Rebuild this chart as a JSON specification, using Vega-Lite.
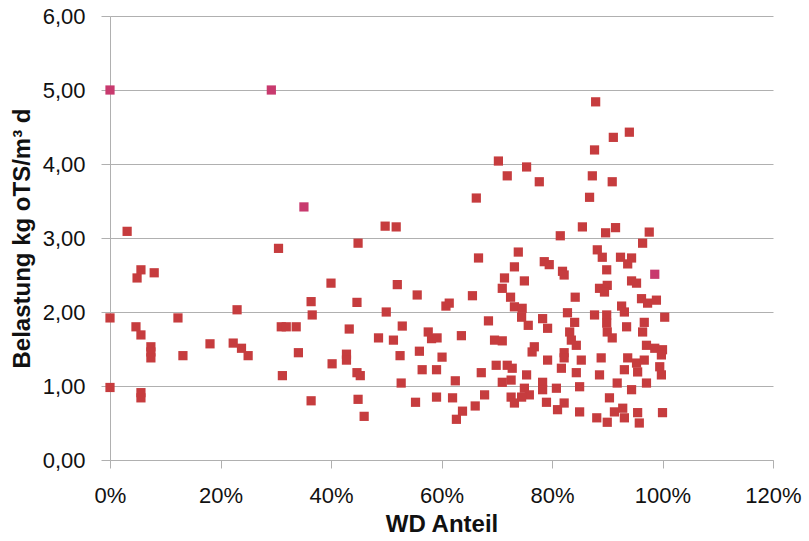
{
  "$schema": "https://vega.github.io/schema/vega-lite/v6.json",
  "width": 663,
  "height": 444,
  "autosize": {"type": "none"},
  "padding": {"left": 110, "top": 16, "right": 36, "bottom": 81},
  "background": "white",
  "config": {
    "view": {"stroke": null},
    "font": "Liberation Sans"
  },
  "data": {
    "values": [
      {"x": 0.000, "y": 5.00, "s": "b"},
      {"x": 0.000, "y": 1.92, "s": "a"},
      {"x": 0.000, "y": 0.98, "s": "a"},
      {"x": 0.031, "y": 3.09, "s": "a"},
      {"x": 0.049, "y": 2.46, "s": "a"},
      {"x": 0.056, "y": 2.57, "s": "a"},
      {"x": 0.080, "y": 2.53, "s": "a"},
      {"x": 0.047, "y": 1.80, "s": "a"},
      {"x": 0.056, "y": 1.69, "s": "a"},
      {"x": 0.056, "y": 0.91, "s": "a"},
      {"x": 0.056, "y": 0.84, "s": "a"},
      {"x": 0.074, "y": 1.53, "s": "a"},
      {"x": 0.074, "y": 1.46, "s": "a"},
      {"x": 0.074, "y": 1.38, "s": "a"},
      {"x": 0.123, "y": 1.92, "s": "a"},
      {"x": 0.132, "y": 1.41, "s": "a"},
      {"x": 0.181, "y": 1.57, "s": "a"},
      {"x": 0.223, "y": 1.58, "s": "a"},
      {"x": 0.230, "y": 2.03, "s": "a"},
      {"x": 0.238, "y": 1.51, "s": "a"},
      {"x": 0.250, "y": 1.41, "s": "a"},
      {"x": 0.292, "y": 5.00, "s": "b"},
      {"x": 0.305, "y": 2.86, "s": "a"},
      {"x": 0.310, "y": 1.80, "s": "a"},
      {"x": 0.319, "y": 1.80, "s": "a"},
      {"x": 0.312, "y": 1.14, "s": "a"},
      {"x": 0.337, "y": 1.80, "s": "a"},
      {"x": 0.341, "y": 1.45, "s": "a"},
      {"x": 0.351, "y": 3.42, "s": "b"},
      {"x": 0.498, "y": 3.16, "s": "a"},
      {"x": 0.518, "y": 3.15, "s": "a"},
      {"x": 0.449, "y": 2.93, "s": "a"},
      {"x": 0.663, "y": 3.54, "s": "a"},
      {"x": 0.667, "y": 2.73, "s": "a"},
      {"x": 0.400, "y": 2.39, "s": "a"},
      {"x": 0.520, "y": 2.37, "s": "a"},
      {"x": 0.556, "y": 2.23, "s": "a"},
      {"x": 0.364, "y": 2.14, "s": "a"},
      {"x": 0.447, "y": 2.13, "s": "a"},
      {"x": 0.608, "y": 2.08, "s": "a"},
      {"x": 0.614, "y": 2.12, "s": "a"},
      {"x": 0.656, "y": 2.22, "s": "a"},
      {"x": 0.366, "y": 1.96, "s": "a"},
      {"x": 0.500, "y": 2.00, "s": "a"},
      {"x": 0.433, "y": 1.77, "s": "a"},
      {"x": 0.529, "y": 1.81, "s": "a"},
      {"x": 0.486, "y": 1.65, "s": "a"},
      {"x": 0.513, "y": 1.62, "s": "a"},
      {"x": 0.576, "y": 1.73, "s": "a"},
      {"x": 0.582, "y": 1.64, "s": "a"},
      {"x": 0.592, "y": 1.65, "s": "a"},
      {"x": 0.636, "y": 1.68, "s": "a"},
      {"x": 0.428, "y": 1.43, "s": "a"},
      {"x": 0.428, "y": 1.35, "s": "a"},
      {"x": 0.402, "y": 1.30, "s": "a"},
      {"x": 0.525, "y": 1.41, "s": "a"},
      {"x": 0.560, "y": 1.47, "s": "a"},
      {"x": 0.601, "y": 1.39, "s": "a"},
      {"x": 0.447, "y": 1.18, "s": "a"},
      {"x": 0.453, "y": 1.14, "s": "a"},
      {"x": 0.565, "y": 1.22, "s": "a"},
      {"x": 0.591, "y": 1.22, "s": "a"},
      {"x": 0.527, "y": 1.04, "s": "a"},
      {"x": 0.625, "y": 1.07, "s": "a"},
      {"x": 0.364, "y": 0.80, "s": "a"},
      {"x": 0.449, "y": 0.82, "s": "a"},
      {"x": 0.460, "y": 0.59, "s": "a"},
      {"x": 0.553, "y": 0.78, "s": "a"},
      {"x": 0.591, "y": 0.85, "s": "a"},
      {"x": 0.620, "y": 0.84, "s": "a"},
      {"x": 0.638, "y": 0.66, "s": "a"},
      {"x": 0.627, "y": 0.55, "s": "a"},
      {"x": 0.661, "y": 0.73, "s": "a"},
      {"x": 0.678, "y": 0.88, "s": "a"},
      {"x": 0.879, "y": 4.84, "s": "a"},
      {"x": 0.911, "y": 4.36, "s": "a"},
      {"x": 0.940, "y": 4.43, "s": "a"},
      {"x": 0.877, "y": 4.19, "s": "a"},
      {"x": 0.703, "y": 4.04, "s": "a"},
      {"x": 0.719, "y": 3.84, "s": "a"},
      {"x": 0.754, "y": 3.96, "s": "a"},
      {"x": 0.777, "y": 3.76, "s": "a"},
      {"x": 0.873, "y": 3.84, "s": "a"},
      {"x": 0.909, "y": 3.76, "s": "a"},
      {"x": 0.868, "y": 3.55, "s": "a"},
      {"x": 0.855, "y": 3.15, "s": "a"},
      {"x": 0.897, "y": 3.07, "s": "a"},
      {"x": 0.915, "y": 3.14, "s": "a"},
      {"x": 0.976, "y": 3.08, "s": "a"},
      {"x": 0.815, "y": 3.03, "s": "a"},
      {"x": 0.964, "y": 2.93, "s": "a"},
      {"x": 0.739, "y": 2.81, "s": "a"},
      {"x": 0.732, "y": 2.61, "s": "a"},
      {"x": 0.786, "y": 2.68, "s": "a"},
      {"x": 0.795, "y": 2.64, "s": "a"},
      {"x": 0.819, "y": 2.55, "s": "a"},
      {"x": 0.822, "y": 2.50, "s": "a"},
      {"x": 0.882, "y": 2.84, "s": "a"},
      {"x": 0.891, "y": 2.74, "s": "a"},
      {"x": 0.899, "y": 2.57, "s": "a"},
      {"x": 0.924, "y": 2.74, "s": "a"},
      {"x": 0.944, "y": 2.73, "s": "a"},
      {"x": 0.937, "y": 2.65, "s": "a"},
      {"x": 0.714, "y": 2.46, "s": "a"},
      {"x": 0.750, "y": 2.42, "s": "a"},
      {"x": 0.944, "y": 2.42, "s": "a"},
      {"x": 0.953, "y": 2.39, "s": "a"},
      {"x": 0.986, "y": 2.51, "s": "b"},
      {"x": 0.710, "y": 2.32, "s": "a"},
      {"x": 0.725, "y": 2.20, "s": "a"},
      {"x": 0.732, "y": 2.07, "s": "a"},
      {"x": 0.746, "y": 2.05, "s": "a"},
      {"x": 0.745, "y": 1.93, "s": "a"},
      {"x": 0.757, "y": 1.82, "s": "a"},
      {"x": 0.685, "y": 1.88, "s": "a"},
      {"x": 0.783, "y": 1.91, "s": "a"},
      {"x": 0.792, "y": 1.78, "s": "a"},
      {"x": 0.842, "y": 2.20, "s": "a"},
      {"x": 0.828, "y": 1.99, "s": "a"},
      {"x": 0.841, "y": 1.86, "s": "a"},
      {"x": 0.832, "y": 1.73, "s": "a"},
      {"x": 0.835, "y": 1.62, "s": "a"},
      {"x": 0.696, "y": 1.62, "s": "a"},
      {"x": 0.710, "y": 1.61, "s": "a"},
      {"x": 0.768, "y": 1.53, "s": "a"},
      {"x": 0.764, "y": 1.46, "s": "a"},
      {"x": 0.822, "y": 1.45, "s": "a"},
      {"x": 0.886, "y": 2.32, "s": "a"},
      {"x": 0.900, "y": 2.36, "s": "a"},
      {"x": 0.895, "y": 2.27, "s": "a"},
      {"x": 0.962, "y": 2.18, "s": "a"},
      {"x": 0.973, "y": 2.12, "s": "a"},
      {"x": 0.989, "y": 2.16, "s": "a"},
      {"x": 0.926, "y": 2.08, "s": "a"},
      {"x": 0.931, "y": 2.00, "s": "a"},
      {"x": 1.004, "y": 1.93, "s": "a"},
      {"x": 0.877, "y": 1.96, "s": "a"},
      {"x": 0.899, "y": 1.96, "s": "a"},
      {"x": 0.899, "y": 1.85, "s": "a"},
      {"x": 0.900, "y": 1.73, "s": "a"},
      {"x": 0.909, "y": 1.65, "s": "a"},
      {"x": 0.935, "y": 1.80, "s": "a"},
      {"x": 0.967, "y": 1.86, "s": "a"},
      {"x": 0.964, "y": 1.73, "s": "a"},
      {"x": 0.971, "y": 1.55, "s": "a"},
      {"x": 0.986, "y": 1.51, "s": "a"},
      {"x": 1.000, "y": 1.49, "s": "a"},
      {"x": 0.844, "y": 1.55, "s": "a"},
      {"x": 0.792, "y": 1.35, "s": "a"},
      {"x": 0.817, "y": 1.24, "s": "a"},
      {"x": 0.822, "y": 1.38, "s": "a"},
      {"x": 0.699, "y": 1.28, "s": "a"},
      {"x": 0.719, "y": 1.28, "s": "a"},
      {"x": 0.728, "y": 1.24, "s": "a"},
      {"x": 0.672, "y": 1.18, "s": "a"},
      {"x": 0.754, "y": 1.15, "s": "a"},
      {"x": 0.710, "y": 1.05, "s": "a"},
      {"x": 0.726, "y": 1.08, "s": "a"},
      {"x": 0.783, "y": 1.05, "s": "a"},
      {"x": 0.783, "y": 0.95, "s": "a"},
      {"x": 0.808, "y": 0.97, "s": "a"},
      {"x": 0.750, "y": 0.97, "s": "a"},
      {"x": 0.759, "y": 0.88, "s": "a"},
      {"x": 0.726, "y": 0.85, "s": "a"},
      {"x": 0.732, "y": 0.77, "s": "a"},
      {"x": 0.745, "y": 0.85, "s": "a"},
      {"x": 0.790, "y": 0.78, "s": "a"},
      {"x": 0.822, "y": 0.77, "s": "a"},
      {"x": 0.810, "y": 0.68, "s": "a"},
      {"x": 0.850, "y": 0.65, "s": "a"},
      {"x": 0.850, "y": 0.99, "s": "a"},
      {"x": 0.844, "y": 1.18, "s": "a"},
      {"x": 0.853, "y": 1.35, "s": "a"},
      {"x": 0.889, "y": 1.38, "s": "a"},
      {"x": 0.937, "y": 1.38, "s": "a"},
      {"x": 0.953, "y": 1.31, "s": "a"},
      {"x": 0.967, "y": 1.35, "s": "a"},
      {"x": 0.998, "y": 1.42, "s": "a"},
      {"x": 0.995, "y": 1.26, "s": "a"},
      {"x": 0.931, "y": 1.22, "s": "a"},
      {"x": 0.955, "y": 1.19, "s": "a"},
      {"x": 0.998, "y": 1.15, "s": "a"},
      {"x": 0.886, "y": 1.15, "s": "a"},
      {"x": 0.918, "y": 1.04, "s": "a"},
      {"x": 0.944, "y": 0.95, "s": "a"},
      {"x": 0.971, "y": 1.04, "s": "a"},
      {"x": 0.904, "y": 0.84, "s": "a"},
      {"x": 0.881, "y": 0.57, "s": "a"},
      {"x": 0.913, "y": 0.65, "s": "a"},
      {"x": 0.928, "y": 0.70, "s": "a"},
      {"x": 0.900, "y": 0.51, "s": "a"},
      {"x": 0.931, "y": 0.57, "s": "a"},
      {"x": 0.955, "y": 0.64, "s": "a"},
      {"x": 0.958, "y": 0.50, "s": "a"},
      {"x": 1.000, "y": 0.64, "s": "a"}
    ]
  },
  "mark": {"type": "square", "size": 85, "opacity": 1, "filled": true},
  "encoding": {
    "x": {
      "field": "x",
      "type": "quantitative",
      "scale": {"domain": [0, 1.2], "nice": false, "zero": false},
      "axis": {
        "values": [0, 0.2, 0.4, 0.6, 0.8, 1.0, 1.2],
        "format": ".0%",
        "title": "WD Anteil",
        "grid": false,
        "labelFlush": false,
        "labelOverlap": false,
        "domainColor": "#B0B0B0",
        "tickColor": "#B0B0B0",
        "tickSize": 8,
        "labelFontSize": 22,
        "labelColor": "#111111",
        "labelPadding": 17,
        "labelFont": "Liberation Sans",
        "titleFont": "Liberation Sans",
        "titleFontSize": 24,
        "titleFontWeight": "bold",
        "titleColor": "#111111",
        "titlePadding": 6
      }
    },
    "y": {
      "field": "y",
      "type": "quantitative",
      "scale": {"domain": [0, 6], "nice": false},
      "axis": {
        "values": [0, 1, 2, 3, 4, 5, 6],
        "labelExpr": "replace(format(datum.value, '.2f'), '.', ',')",
        "title": "Belastung kg oTS/m³ d",
        "grid": true,
        "labelFlush": false,
        "labelOverlap": false,
        "gridColor": "#B0B0B0",
        "domainColor": "#B0B0B0",
        "tickColor": "#B0B0B0",
        "tickSize": 9,
        "labelFontSize": 22,
        "labelColor": "#111111",
        "labelPadding": 16,
        "labelFont": "Liberation Sans",
        "titleFont": "Liberation Sans",
        "titleFontSize": 24,
        "titleFontWeight": "bold",
        "titleColor": "#111111",
        "titlePadding": 8
      }
    },
    "color": {
      "field": "s",
      "type": "nominal",
      "scale": {"domain": ["a", "b"], "range": ["#C63C3E", "#C83A6E"]},
      "legend": null
    }
  }
}
